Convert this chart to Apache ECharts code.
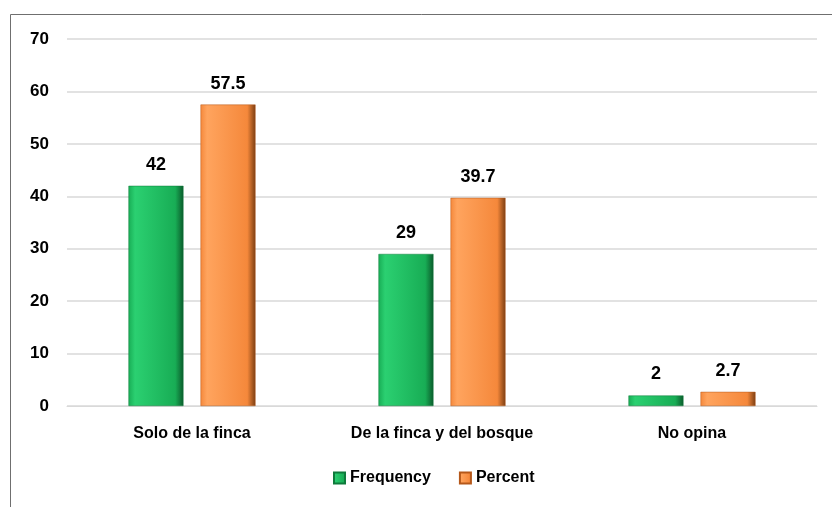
<!DOCTYPE html>
<html><head><meta charset="utf-8">
<script src="https://cdn.jsdelivr.net/npm/echarts@6/dist/echarts.min.js"></script>
<style>html,body{margin:0;padding:0;background:#fff}#c{width:832px;height:507px}</style>
</head><body><div id="c"></div>
<script>
const categories = ['Solo de la finca', 'De la finca y del bosque', 'No opina'];
const frequency = [42, 29, 2];
const percent = [57.5, 39.7, 2.7];
const seriesNames = ['Frequency', 'Percent'];

const chart = echarts.init(document.getElementById('c'));
function grad(light, mid, dark) {
  return new echarts.graphic.LinearGradient(0, 0, 1, 0, [
    {offset: 0, color: mid}, {offset: 0.12, color: light}, {offset: 0.85, color: mid}, {offset: 1, color: dark}
  ]);
}
const font = '"Liberation Sans", Arial, sans-serif';
chart.setOption({
  animation: false,
  textStyle: {fontFamily: font},
  graphic: [{type: 'rect', shape: {x: 10.5, y: 14.5, width: 900, height: 600}, style: {fill: 'none', stroke: '#6f6f6f', lineWidth: 1}, silent: true, z: -1}],
  grid: {left: 67, right: 15, top: 39, bottom: 101, containLabel: false},
  legend: {
    data: seriesNames, bottom: 16, left: 328, itemWidth: 11, itemHeight: 11, itemGap: 28, icon: 'rect',
    textStyle: {fontSize: 16, fontWeight: 'bold', color: '#000', fontFamily: font}
  },
  xAxis: {
    type: 'category', data: categories,
    axisLine: {show: true, lineStyle: {color: '#d9d9d9', width: 1}}, axisTick: {show: false},
    axisLabel: {interval: 0, fontSize: 16, fontWeight: 'bold', color: '#000', margin: 20, fontFamily: font}
  },
  yAxis: {
    type: 'value', min: 0, max: 70, interval: 10,
    axisLine: {show: false}, axisTick: {show: false},
    splitLine: {lineStyle: {color: '#d9d9d9', width: 1.5}},
    axisLabel: {fontSize: 17, fontWeight: 'bold', color: '#000', margin: 18, fontFamily: font}
  },
  series: [
    {name: seriesNames[0], type: 'bar', data: frequency, barWidth: '22%', barGap: '31%',
     itemStyle: {color: grad('#2bd071', '#18ad55', '#0b5a2b'), borderColor: '#0f7a3b', borderWidth: 0.5},
     label: {show: true, position: 'top', distance: 12, fontSize: 18, fontWeight: 'bold', color: '#000', fontFamily: font}},
    {name: seriesNames[1], type: 'bar', data: percent, barWidth: '22%', barGap: '31%',
     itemStyle: {color: grad('#ffa45e', '#f5883b', '#7a3d12'), borderColor: '#b5581a', borderWidth: 0.5},
     label: {show: true, position: 'top', distance: 12, fontSize: 18, fontWeight: 'bold', color: '#000', fontFamily: font}}
  ]
});
</script></body></html>
